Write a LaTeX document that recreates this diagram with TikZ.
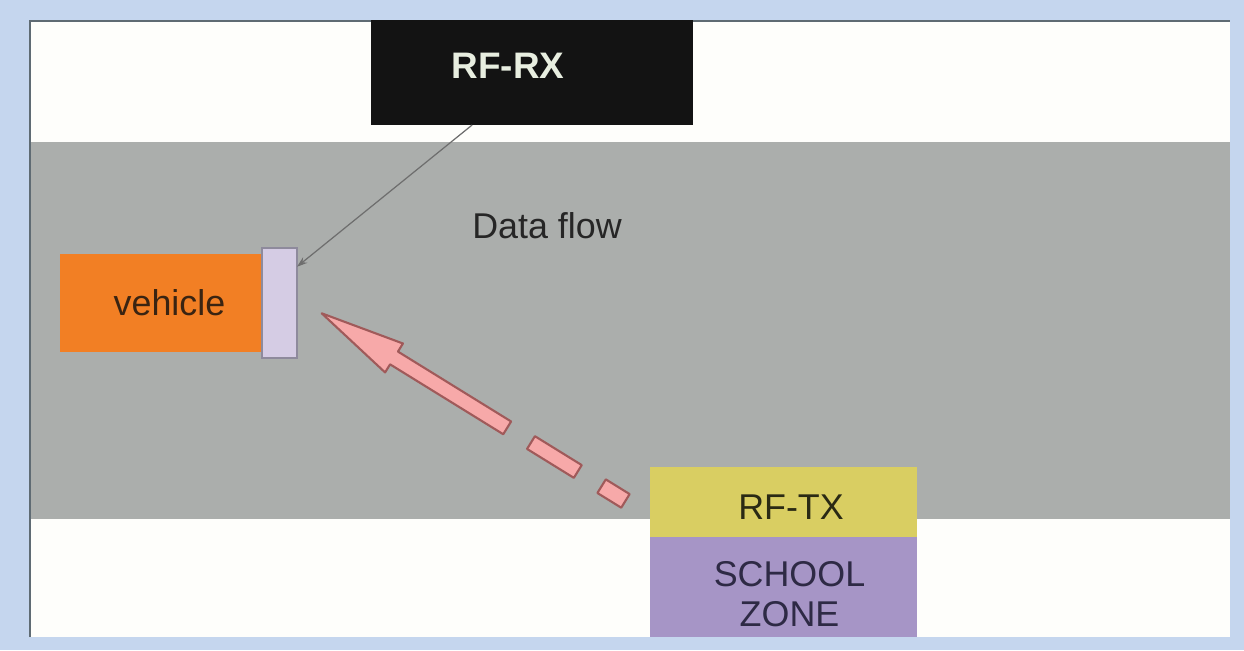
\documentclass[tikz,border=0pt]{standalone}
\usepackage{fontspec}
\setmainfont{Liberation Sans}
\usetikzlibrary{arrows.meta,calc}
\definecolor{bgblue}{HTML}{C5D6EE}
\definecolor{paper}{HTML}{FEFEFB}
\definecolor{frameline}{HTML}{5F6B73}
\definecolor{road}{HTML}{ABAEAC}
\definecolor{vorange}{HTML}{F27F24}
\definecolor{lav}{HTML}{D5CCE4}
\definecolor{lavline}{HTML}{8E8A9C}
\definecolor{txyellow}{HTML}{D9CE62}
\definecolor{zonepurple}{HTML}{A695C6}
\definecolor{zonetext}{HTML}{2E2A45}
\definecolor{vehtext}{HTML}{3A2412}
\definecolor{txtext}{HTML}{2A2A14}
\definecolor{rxblack}{HTML}{131313}
\definecolor{rxtext}{HTML}{E8EEE0}
\definecolor{pinkfill}{HTML}{F7A9A9}
\definecolor{pinkline}{HTML}{A05A5A}
\definecolor{wire}{HTML}{6E6E6E}
\begin{document}
\begin{tikzpicture}[x=0.02cm,y=-0.02cm,
  box/.style={rectangle,inner sep=0pt,outer sep=0pt},
  regtext/.style={font=\fontsize{20.4}{22.7}\selectfont},
  boldtext/.style={font=\fontsize{21}{24}\selectfont\bfseries},
  pinkarrow/.style={fill=pinkfill,draw=pinkline,line width=1.2pt,line join=round}]
% background and frame
\fill[bgblue] (0,0) rectangle (1244,650);
\useasboundingbox (0,0) rectangle (1244,650);
\fill[paper] (30,21) rectangle (1230,637);
\fill[road] (31,142) rectangle (1230,519);
\draw[frameline,line width=1.2pt] (30,637) -- (30,21) -- (1230,21);
% RF-RX
\node[box,fill=rxblack,minimum width=6.44cm,minimum height=2.1cm,
  label={[boldtext,text=rxtext,xshift=-0.48cm,yshift=0.13cm]center:RF-RX}] (rfrx) at (532,72.5) {};
% vehicle and antenna
\node[box,fill=vorange,minimum width=4.04cm,minimum height=1.96cm,
  label={[regtext,text=vehtext,xshift=0.17cm]center:vehicle}] (veh) at (161,303) {};
\node[box,fill=lav,draw=lavline,line width=0.6pt,minimum width=0.7cm,minimum height=2.2cm] (ant) at (279.5,303) {};
% Data flow
\node[regtext,text=black!85] (flow) at (547,226) {Data flow};
% RF-TX and school zone
\node[box,fill=txyellow,minimum width=5.34cm,minimum height=1.4cm,
  label={[regtext,text=txtext,xshift=0.15cm,yshift=-0.11cm]center:RF-TX}] (rftx) at (783.5,502) {};
\node[box,fill=zonepurple,minimum width=5.34cm,minimum height=2.0cm,
  label={[regtext,text=zonetext,align=center,xshift=0.12cm,yshift=-0.15cm]center:SCHOOL\\ZONE}] (zone) at (783.5,587) {};
% wire from RF-RX to antenna
\coordinate (wstart) at ($(rfrx.south west)!0.314!(rfrx.south east)$);
\coordinate (wend) at ($(ant.north east)!0.17!(ant.south east)$);
\draw[wire,line width=0.7pt,-{Stealth[length=6pt,width=4pt]}] (wstart) -- (wend);
% dashed block arrow (data flow from RF-TX to vehicle)
\coordinate (tip) at (321.7,313.3);
\begin{scope}[shift={(tip)},rotate=-31.7]
  \draw[pinkarrow] (0,0) -- (85,-17) -- (85,-7.5) -- (218,-7.5) -- (218,7.5) -- (85,7.5) -- (85,17) -- cycle;
  \draw[pinkarrow] (246,-7.5) rectangle (301,7.5);
  \draw[pinkarrow] (329,-8) rectangle (357,8);
\end{scope}
\end{tikzpicture}
\end{document}
